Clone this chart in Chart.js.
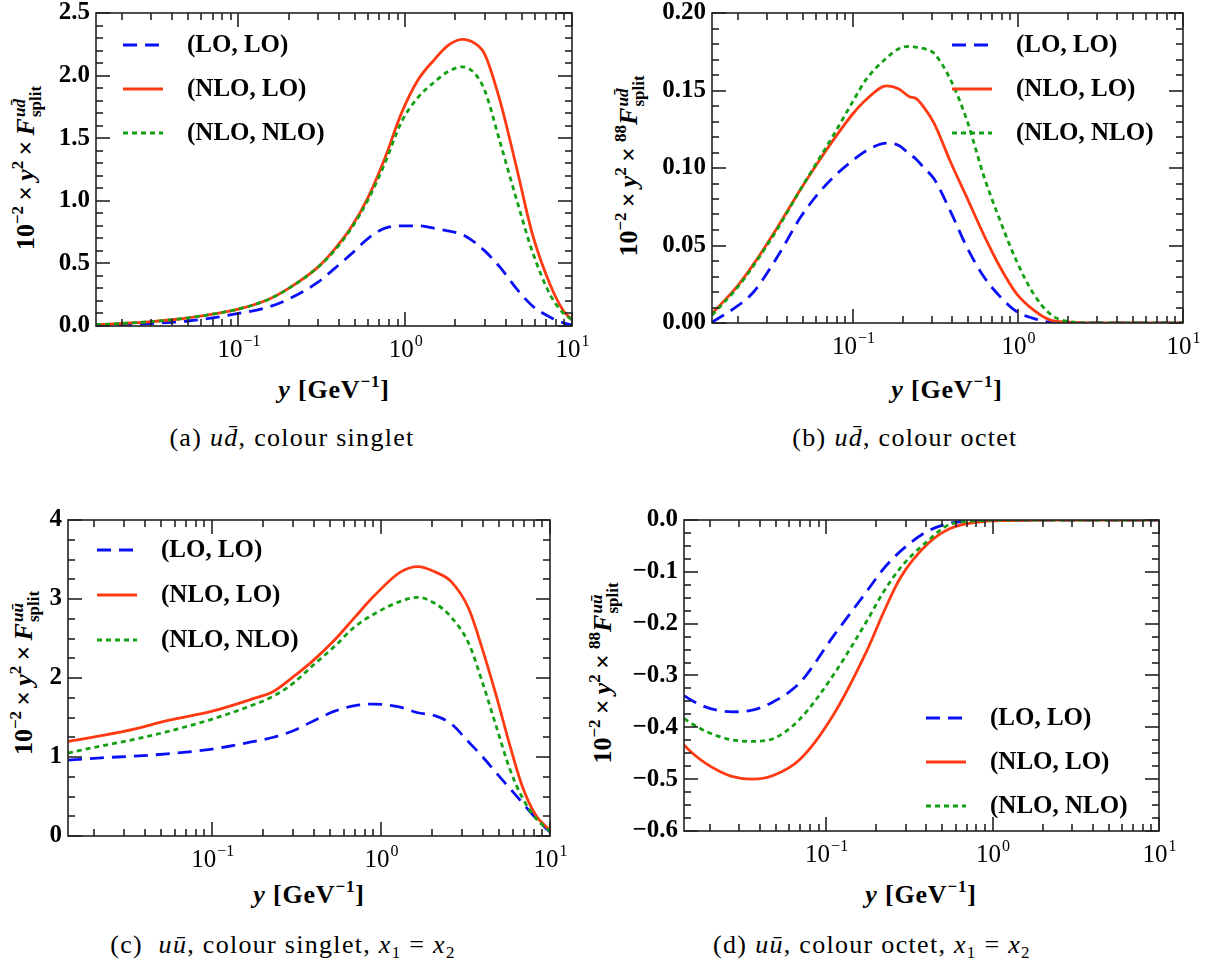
<!DOCTYPE html>
<html>
<head>
<meta charset="utf-8">
<script src="https://cdn.jsdelivr.net/npm/chart.js@4.4.1/dist/chart.umd.min.js"></script>
<style>
  body { margin: 0; background: #fff; width: 1216px; height: 971px; position: relative; overflow: hidden; font-family: "Liberation Serif", serif; color: #000; }
  canvas { position: absolute; }
  .t { position: absolute; white-space: nowrap; font-weight: bold; font-size: 26px; line-height: 32px; }
  .yt { transform: translate(-50%, -50%) rotate(-90deg); }
  .xt { transform: translate(-50%, -50%); letter-spacing: 0.8px; }
  .cap { position: absolute; white-space: nowrap; font-size: 26px; letter-spacing: 1.3px; transform: translate(-50%, -50%); }
  sup, sub { font-size: 17px; line-height: 0; position: relative; vertical-align: 0; }
  sup { top: -11px; }
  sub { top: 5px; }
  .ss { display: inline-flex; flex-direction: column; vertical-align: middle; font-size: 17px; line-height: 16px; margin-left: 1px; }
</style>
</head>
<body>

<div class="t yt" style="left:27px;top:168px">10<sup>−2</sup>&thinsp;×&thinsp;<i>y</i><sup>2</sup>&thinsp;×&thinsp;<i>F</i><span class="ss"><i>ud̄</i><span>split</span></span></div>
<div class="t yt" style="left:630px;top:166px">10<sup>−2</sup>&thinsp;×&thinsp;<i>y</i><sup>2</sup>&thinsp;×&thinsp;<sup>88</sup><i>F</i><span class="ss"><i>ud̄</i><span>split</span></span></div>
<div class="t yt" style="left:25px;top:673px">10<sup>−2</sup>&thinsp;×&thinsp;<i>y</i><sup>2</sup>&thinsp;×&thinsp;<i>F</i><span class="ss"><i>uū</i><span>split</span></span></div>
<div class="t yt" style="left:604px;top:673px">10<sup>−2</sup>&thinsp;×&thinsp;<i>y</i><sup>2</sup>&thinsp;×&thinsp;<sup>88</sup><i>F</i><span class="ss"><i>uū</i><span>split</span></span></div>

<div class="t xt" style="left:334px;top:390px"><i>y</i> [GeV<sup>−1</sup>]</div>
<div class="t xt" style="left:947px;top:390px"><i>y</i> [GeV<sup>−1</sup>]</div>
<div class="t xt" style="left:309px;top:895px"><i>y</i> [GeV<sup>−1</sup>]</div>
<div class="t xt" style="left:921px;top:895px"><i>y</i> [GeV<sup>−1</sup>]</div>

<div class="cap" style="left:292px;top:438px">(a) <i>ud̄</i>, colour singlet</div>
<div class="cap" style="left:905px;top:438px">(b) <i>ud̄</i>, colour octet</div>
<div class="cap" style="left:283px;top:945px">(c)&nbsp;&nbsp;<i>uū</i>, colour singlet, <i>x</i><sub>1</sub> = <i>x</i><sub>2</sub></div>
<div class="cap" style="left:872px;top:945px">(d) <i>uū</i>, colour octet, <i>x</i><sub>1</sub> = <i>x</i><sub>2</sub></div>

<script>
// series labels and x tick decades
const seriesLabels = ['(LO, LO)', '(NLO, LO)', '(NLO, NLO)']
const xDecades = [-1, 0, 1]

// (a) ud-bar, colour singlet
const aX = [0.014, 0.02, 0.03, 0.04, 0.05, 0.07, 0.1, 0.15, 0.2, 0.3, 0.37, 0.47, 0.6, 0.75, 0.95, 1.2, 1.5, 1.8, 2.2, 2.6, 3.0, 3.7, 4.7, 5.8, 7.4, 8.9, 10]
const aLOLO = [0.003, 0.01, 0.02, 0.03, 0.04, 0.065, 0.10, 0.15, 0.215, 0.35, 0.45, 0.57, 0.70, 0.78, 0.80, 0.80, 0.78, 0.76, 0.73, 0.67, 0.60, 0.47, 0.29, 0.16, 0.07, 0.025, 0.008]
const aNLOLO = [0.01, 0.02, 0.035, 0.05, 0.065, 0.095, 0.135, 0.21, 0.30, 0.47, 0.60, 0.78, 1.03, 1.33, 1.70, 1.97, 2.13, 2.24, 2.29, 2.26, 2.17, 1.80, 1.24, 0.73, 0.33, 0.12, 0.05]
const aNLONLO = [0.01, 0.02, 0.035, 0.05, 0.065, 0.095, 0.135, 0.21, 0.30, 0.47, 0.59, 0.77, 1.01, 1.29, 1.63, 1.83, 1.95, 2.03, 2.07, 2.02, 1.88, 1.47, 0.99, 0.59, 0.25, 0.10, 0.05]

// (b) ud-bar, colour octet
const bX = [0.014, 0.02, 0.025, 0.035, 0.048, 0.06, 0.076, 0.1, 0.12, 0.16, 0.19, 0.22, 0.24, 0.27, 0.31, 0.39, 0.49, 0.62, 0.78, 0.98, 1.24, 1.56, 2, 3, 5, 10]
const bLOLO = [0.0005, 0.011, 0.020, 0.043, 0.068, 0.082, 0.094, 0.105, 0.111, 0.116, 0.1145, 0.109, 0.106, 0.100, 0.093, 0.072, 0.049, 0.030, 0.017, 0.0074, 0.003, 0.0005, 0, 0, 0, 0]
const bNLOLO = [0.006, 0.024, 0.038, 0.062, 0.086, 0.102, 0.118, 0.135, 0.144, 0.153, 0.151, 0.146, 0.145, 0.139, 0.129, 0.104, 0.081, 0.057, 0.036, 0.019, 0.0085, 0.002, 0.0005, 0, 0, 0]
const bNLONLO = [0.005, 0.023, 0.037, 0.061, 0.086, 0.103, 0.121, 0.143, 0.157, 0.171, 0.177, 0.1785, 0.178, 0.177, 0.174, 0.157, 0.131, 0.095, 0.066, 0.040, 0.019, 0.006, 0.001, 0, 0, 0]

// (c) uu-bar, colour singlet
const cX = [0.014, 0.022, 0.034, 0.054, 0.1, 0.17, 0.23, 0.3, 0.4, 0.53, 0.7, 0.91, 1.3, 1.65, 2.1, 2.6, 3.3, 4.0, 4.8, 5.8, 6.8, 8.2, 10]
const cLOLO = [0.96, 0.99, 1.01, 1.04, 1.10, 1.19, 1.25, 1.33, 1.46, 1.58, 1.65, 1.67, 1.63, 1.56, 1.52, 1.42, 1.19, 1.00, 0.80, 0.60, 0.43, 0.23, 0.05]
const cNLOLO = [1.196, 1.27, 1.35, 1.46, 1.58, 1.73, 1.83, 2.01, 2.23, 2.48, 2.77, 3.04, 3.34, 3.41, 3.34, 3.22, 2.88, 2.35, 1.78, 1.14, 0.65, 0.27, 0.07]
const cNLONLO = [1.05, 1.14, 1.22, 1.32, 1.48, 1.65, 1.77, 1.93, 2.17, 2.40, 2.65, 2.81, 2.97, 3.02, 2.94, 2.77, 2.44, 1.93, 1.39, 0.84, 0.50, 0.23, 0.06]

// (d) uu-bar, colour octet
const dX = [0.014, 0.016, 0.019, 0.023, 0.0275, 0.036, 0.048, 0.07, 0.11, 0.177, 0.22, 0.28, 0.405, 0.56, 0.88, 1.2, 2, 5, 10]
const dLOLO = [-0.339, -0.350, -0.361, -0.368, -0.370, -0.367, -0.351, -0.313, -0.225, -0.136, -0.095, -0.060, -0.022, -0.006, -0.001, 0, 0, 0, 0]
const dNLOLO = [-0.434, -0.452, -0.470, -0.485, -0.495, -0.500, -0.493, -0.461, -0.377, -0.250, -0.180, -0.111, -0.047, -0.016, -0.003, -0.001, 0, 0, 0]
const dNLONLO = [-0.383, -0.395, -0.408, -0.418, -0.4245, -0.427, -0.422, -0.383, -0.300, -0.193, -0.140, -0.092, -0.041, -0.008, -0.001, 0, 0, 0, 0]

const styles = [
  { color: '#0a10f5', dash: [14, 8], order: 2 },
  { color: '#ff3a12', dash: [], order: 1 },
  { color: '#14a014', dash: [5, 4], order: 0 },
]

const SERIF = '"Liberation Serif", serif'
const YW = 100, PT = 16, PR = 26, XH = 50

// inward ticks on all four sides, frame, and 10^n labels
const frame = {
  id: 'frame',
  afterDatasetsDraw(chart, args, o) {
    const { ctx, chartArea: a, scales: { x, y } } = chart
    ctx.save()
    ctx.strokeStyle = '#222'
    ctx.lineWidth = 1.6
    const seg = (x1, y1, x2, y2) => { ctx.beginPath(); ctx.moveTo(x1, y1); ctx.lineTo(x2, y2); ctx.stroke() }
    const n = Math.round((o.max - o.min) / o.minor)
    for (let i = 0; i <= n; i++) {
      const v = o.min + i * o.minor
      const major = Math.abs(v / o.major - Math.round(v / o.major)) < 1e-6
      const len = major ? 14 : 7
      const py = Math.round(y.getPixelForValue(v))
      seg(a.left, py, a.left + len, py)
      seg(a.right - len, py, a.right, py)
    }
    for (let e = -2; e <= 1; e++) {
      for (let m = 1; m <= 9; m++) {
        const v = m * Math.pow(10, e)
        if (v < x.min || v > x.max) continue
        const len = m === 1 ? 14 : 7
        const px = Math.round(x.getPixelForValue(v))
        seg(px, a.bottom, px, a.bottom - len)
        seg(px, a.top, px, a.top + len)
      }
    }
    ctx.strokeRect(a.left, a.top, a.right - a.left, a.bottom - a.top)

    ctx.fillStyle = '#000'
    ctx.textBaseline = 'alphabetic'
    xDecades.forEach(e => {
      const px = x.getPixelForValue(Math.pow(10, e))
      const ex = e < 0 ? '−' + (-e) : String(e)
      ctx.font = '25px ' + SERIF
      const w1 = ctx.measureText('10').width
      ctx.font = '16px ' + SERIF
      const w2 = ctx.measureText(ex).width
      const left = px - (w1 + w2) / 2
      const by = a.bottom + 31
      ctx.font = '25px ' + SERIF
      ctx.fillText('10', left, by)
      ctx.font = '16px ' + SERIF
      ctx.fillText(ex, left + w1 + 1, by - 11)
    })
    ctx.restore()
  }
}

// legend drawn inside the plot area
const inLegend = {
  id: 'inLegend',
  afterDraw(chart, args, o) {
    const { ctx, chartArea: a } = chart
    chart.data.datasets.forEach((ds, i) => {
      const yy = a.top + o.y + i * o.dy
      ctx.save()
      ctx.strokeStyle = ds.borderColor
      ctx.lineWidth = ds.borderWidth
      ctx.setLineDash(ds.borderDash)
      ctx.beginPath()
      ctx.moveTo(a.left + o.x, yy)
      ctx.lineTo(a.left + o.x + 40, yy)
      ctx.stroke()
      ctx.setLineDash([])
      ctx.fillStyle = '#000'
      ctx.font = 'bold 25px ' + SERIF
      ctx.textBaseline = 'middle'
      ctx.fillText(ds.label, a.left + o.x + 64, yy + 1)
      ctx.restore()
    })
  }
}

const panels = [
  { box: [96, 8, 572, 326], xs: aX, series: [aLOLO, aNLOLO, aNLONLO], min: 0, max: 2.5, major: 0.5, minor: 0.1, dec: 1, legend: { x: 27, y: 32, dy: 44 } },
  { box: [712, 8, 1183, 323], xs: bX, series: [bLOLO, bNLOLO, bNLONLO], min: 0, max: 0.2, major: 0.05, minor: 0.01, dec: 2, legend: { x: 240, y: 32, dy: 44 } },
  { box: [68, 515, 550, 836], xs: cX, series: [cLOLO, cNLOLO, cNLONLO], min: 0, max: 4, major: 1, minor: 0.25, dec: 0, legend: { x: 29, y: 30, dy: 45 } },
  { box: [684, 515, 1159, 831], xs: dX, series: [dLOLO, dNLOLO, dNLONLO], min: -0.6, max: 0, major: 0.1, minor: 0.025, dec: 1, legend: { x: 242, y: 198, dy: 44 } },
]

panels.forEach(p => {
  const [L, T, R, B] = p.box
  const cv = document.createElement('canvas')
  cv.width = YW + (R - L) + PR
  cv.height = PT + (B - T) + XH
  cv.style.left = (L - YW) + 'px'
  cv.style.top = (T - PT) + 'px'
  document.body.appendChild(cv)

  new Chart(cv.getContext('2d'), {
    type: 'line',
    data: {
      datasets: p.series.map((vals, i) => ({
        label: seriesLabels[i],
        data: p.xs.map((x, j) => ({ x, y: vals[j] })),
        borderColor: styles[i].color,
        borderDash: styles[i].dash,
        borderWidth: 2.8,
        order: styles[i].order,
        pointRadius: 0,
        fill: false,
        cubicInterpolationMode: 'monotone',
      })),
    },
    options: {
      responsive: false,
      animation: false,
      devicePixelRatio: 1,
      layout: { padding: { top: PT, right: PR, left: 0, bottom: 0 } },
      plugins: {
        legend: { display: false },
        tooltip: { enabled: false },
        frame: { min: p.min, max: p.max, major: p.major, minor: p.minor },
        inLegend: p.legend,
      },
      scales: {
        x: {
          type: 'logarithmic',
          min: 0.014,
          max: 10,
          grid: { display: false, drawTicks: false },
          border: { display: false },
          ticks: { display: false },
          afterFit(s) { s.height = XH },
        },
        y: {
          min: p.min,
          max: p.max,
          grid: { display: false, drawTicks: false },
          border: { display: false },
          ticks: {
            stepSize: p.major,
            padding: 6,
            color: '#000',
            font: { family: SERIF, weight: 'bold', size: 25 },
            callback: v => v.toFixed(p.dec).replace('-', '−'),
          },
          afterFit(s) { s.width = YW },
        },
      },
    },
    plugins: [frame, inLegend],
  })
})
</script>
</body>
</html>
